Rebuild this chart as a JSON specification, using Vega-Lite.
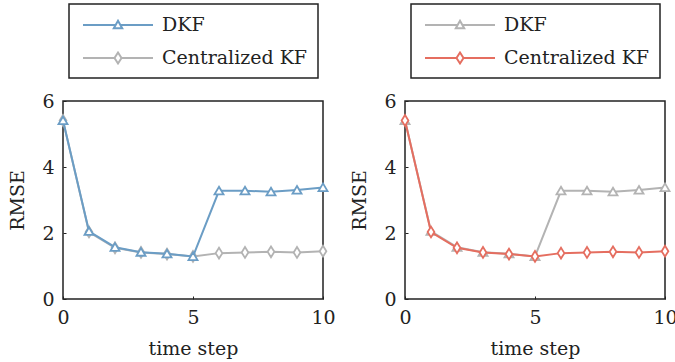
{
  "$schema": "https://vega.github.io/schema/vega-lite/v6.json",
  "background": "white",
  "padding": {"left": 8, "top": 2, "right": 0, "bottom": 0},
  "datasets": {
    "rmse": [
      {"t": 0, "series": "DKF", "rmse": 5.41},
      {"t": 1, "series": "DKF", "rmse": 2.05},
      {"t": 2, "series": "DKF", "rmse": 1.57},
      {"t": 3, "series": "DKF", "rmse": 1.42},
      {"t": 4, "series": "DKF", "rmse": 1.37},
      {"t": 5, "series": "DKF", "rmse": 1.29},
      {"t": 6, "series": "DKF", "rmse": 3.28},
      {"t": 7, "series": "DKF", "rmse": 3.28},
      {"t": 8, "series": "DKF", "rmse": 3.25},
      {"t": 9, "series": "DKF", "rmse": 3.30},
      {"t": 10, "series": "DKF", "rmse": 3.38},
      {"t": 0, "series": "Centralized KF", "rmse": 5.41},
      {"t": 1, "series": "Centralized KF", "rmse": 2.03},
      {"t": 2, "series": "Centralized KF", "rmse": 1.55},
      {"t": 3, "series": "Centralized KF", "rmse": 1.41},
      {"t": 4, "series": "Centralized KF", "rmse": 1.36},
      {"t": 5, "series": "Centralized KF", "rmse": 1.29},
      {"t": 6, "series": "Centralized KF", "rmse": 1.39},
      {"t": 7, "series": "Centralized KF", "rmse": 1.41},
      {"t": 8, "series": "Centralized KF", "rmse": 1.43},
      {"t": 9, "series": "Centralized KF", "rmse": 1.41},
      {"t": 10, "series": "Centralized KF", "rmse": 1.45}
    ]
  },
  "spacing": 82,
  "bounds": "flush",
  "resolve": {
    "scale": {"stroke": "independent", "shape": "independent"},
    "legend": {"stroke": "independent", "shape": "independent"}
  },
  "hconcat": [
    {
      "width": 260,
      "height": 198,
      "data": {"name": "rmse"},
      "encoding": {
        "x": {"field": "t", "type": "quantitative", "title": "time step",
              "scale": {"domain": [0, 10], "nice": false},
              "axis": {"values": [0, 5, 10]}},
        "y": {"field": "rmse", "type": "quantitative", "title": "RMSE",
              "scale": {"domain": [0, 6], "nice": false},
              "axis": {"values": [0, 2, 4, 6]}}
      },
      "layer": [
        {
          "transform": [{"filter": "datum.series === 'Centralized KF'"}],
          "mark": {"type": "line", "strokeWidth": 2},
          "encoding": {
            "stroke": {"field": "series", "type": "nominal",
              "scale": {"domain": ["DKF", "Centralized KF"], "range": ["#6b9dc5", "#b3b3b3"]},
              "legend": {
                "title": null, "orient": "none", "legendX": 6, "legendY": -97,
                "symbolSize": 400, "symbolStrokeWidth": 2, "symbolOffset": 28, "symbolOpacity": 1,
                "labelOffset": 33, "padding": 10, "rowPadding": 12,
                "strokeColor": "#222",
                "labelFont": "DejaVu Serif", "labelFontSize": 19, "labelColor": "#222", "labelLimit": 400
              }}
          }
        },
        {
          "transform": [{"filter": "datum.series === 'Centralized KF'"}],
          "mark": {"type": "point", "filled": true, "fill": "white", "fillOpacity": 1, "opacity": 1, "strokeWidth": 1.8, "size": 81, "shape": "M0,-1.2L0.75,0L0,1.2L-0.75,0Z"},
          "encoding": {
            "stroke": {"field": "series", "type": "nominal"}
          }
        },
        {
          "transform": [{"filter": "datum.series === 'DKF'"}],
          "mark": {"type": "line", "strokeWidth": 2},
          "encoding": {
            "stroke": {"field": "series", "type": "nominal"}
          }
        },
        {
          "transform": [{"filter": "datum.series === 'DKF'"}],
          "mark": {"type": "point", "filled": true, "fill": "white", "fillOpacity": 1, "opacity": 1, "strokeWidth": 1.8, "size": 81, "shape": "M0,-0.9L1,0.8L-1,0.8Z"},
          "encoding": {
            "stroke": {"field": "series", "type": "nominal"}
          }
        },
        {
          "transform": [{"filter": "false"}],
          "mark": {"type": "point", "filled": false, "strokeWidth": 2},
          "encoding": {
            "stroke": {"field": "series", "type": "nominal"},
            "shape": {"field": "series", "type": "nominal",
              "scale": {"domain": ["DKF", "Centralized KF"], "range": ["M-3.5,0H-0.24M0.24,0H3.5M0,-0.42L0.42,0.32L-0.42,0.32Z", "M-3.5,0H-0.35M0.35,0H3.5M0,-0.55L0.35,0L0,0.55L-0.35,0Z"]}}
          }
        }
      ]
    },
    {
      "width": 260,
      "height": 198,
      "data": {"name": "rmse"},
      "encoding": {
        "x": {"field": "t", "type": "quantitative", "title": "time step",
              "scale": {"domain": [0, 10], "nice": false},
              "axis": {"values": [0, 5, 10]}},
        "y": {"field": "rmse", "type": "quantitative", "title": "RMSE",
              "scale": {"domain": [0, 6], "nice": false},
              "axis": {"values": [0, 2, 4, 6]}}
      },
      "layer": [
        {
          "transform": [{"filter": "datum.series === 'DKF'"}],
          "mark": {"type": "line", "strokeWidth": 2},
          "encoding": {
            "stroke": {"field": "series", "type": "nominal",
              "scale": {"domain": ["DKF", "Centralized KF"], "range": ["#b3b3b3", "#e56e60"]},
              "legend": {
                "title": null, "orient": "none", "legendX": 6, "legendY": -97,
                "symbolSize": 400, "symbolStrokeWidth": 2, "symbolOffset": 28, "symbolOpacity": 1,
                "labelOffset": 33, "padding": 10, "rowPadding": 12,
                "strokeColor": "#222",
                "labelFont": "DejaVu Serif", "labelFontSize": 19, "labelColor": "#222", "labelLimit": 400
              }}
          }
        },
        {
          "transform": [{"filter": "datum.series === 'DKF'"}],
          "mark": {"type": "point", "filled": true, "fill": "white", "fillOpacity": 1, "opacity": 1, "strokeWidth": 1.8, "size": 81, "shape": "M0,-0.9L1,0.8L-1,0.8Z"},
          "encoding": {
            "stroke": {"field": "series", "type": "nominal"}
          }
        },
        {
          "transform": [{"filter": "datum.series === 'Centralized KF'"}],
          "mark": {"type": "line", "strokeWidth": 2},
          "encoding": {
            "stroke": {"field": "series", "type": "nominal"}
          }
        },
        {
          "transform": [{"filter": "datum.series === 'Centralized KF'"}],
          "mark": {"type": "point", "filled": true, "fill": "white", "fillOpacity": 1, "opacity": 1, "strokeWidth": 1.8, "size": 81, "shape": "M0,-1.2L0.75,0L0,1.2L-0.75,0Z"},
          "encoding": {
            "stroke": {"field": "series", "type": "nominal"}
          }
        },
        {
          "transform": [{"filter": "false"}],
          "mark": {"type": "point", "filled": false, "strokeWidth": 2},
          "encoding": {
            "stroke": {"field": "series", "type": "nominal"},
            "shape": {"field": "series", "type": "nominal",
              "scale": {"domain": ["DKF", "Centralized KF"], "range": ["M-3.5,0H-0.24M0.24,0H3.5M0,-0.42L0.42,0.32L-0.42,0.32Z", "M-3.5,0H-0.35M0.35,0H3.5M0,-0.55L0.35,0L0,0.55L-0.35,0Z"]}}
          }
        }
      ]
    }
  ],
  "config": {
    "view": {"stroke": "#222", "strokeWidth": 1.5},
    "legend": {"strokeWidth": 1.5},
    "axis": {
      "domain": false, "grid": false, "ticks": true, "tickSize": -3, "tickColor": "#222", "tickWidth": 1,
      "labelFlush": false,
      "labelFont": "DejaVu Serif", "labelFontSize": 19, "labelColor": "#222",
      "titleFont": "DejaVu Serif", "titleFontSize": 19, "titleFontWeight": "normal", "titleColor": "#222"
    },
    "axisX": {"labelPadding": 12, "titlePadding": 12},
    "axisY": {"labelPadding": 12, "titlePadding": 14}
  }
}
